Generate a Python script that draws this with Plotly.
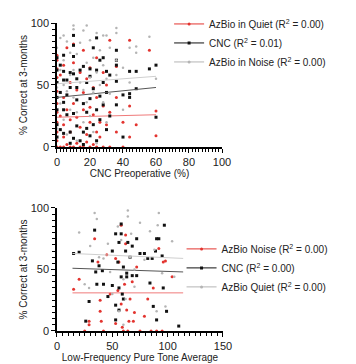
import plotly.graph_objects as go

# ---------------- Top panel data: CNC preoperative (%) vs % correct at 3 months
top_cnc_x = [0,0,0,0,0,0,0,2,2,2,4,4,4,4,4,4,6,6,6,8,8,8,8,10,10,10,10,10,10,12,12,12,12,14,14,16,16,16,16,18,18,18,20,20,20,20,22,22,22,24,24,24,24,26,26,26,28,28,28,30,30,30,32,32,36,36,36,36,36,40,40,44,44,44,48,48,56,60,60]
top_cnc_y = [72,62,52,40,30,18,8,66,44,14,74,61,54,36,30,11,54,42,26,60,48,12,3,90,82,73,59,27,7,55,38,48,17,62,5,65,35,12,2,52,28,15,63,39,9,57,80,47,18,88,62,30,5,41,70,22,72,52,34,61,44,14,58,25,78,70,66,53,34,42,8,61,43,40,61,47,63,66,24]

top_quiet_x = [0,0,0,0,0,0,0,0,0,0,0,2,2,2,4,4,4,4,4,6,6,6,8,8,8,8,10,10,10,10,12,12,12,14,14,14,16,16,16,16,18,18,18,20,20,20,20,22,22,22,24,24,24,24,26,26,28,28,28,30,30,32,32,32,36,36,36,40,40,44,44,44,48,56,60,60]
top_quiet_y = [0,5,12,20,28,35,45,56,63,70,74,0,25,58,0,8,18,40,66,2,30,80,0,12,22,52,0,35,83,68,3,24,46,0,16,60,0,30,44,78,4,10,55,0,20,32,64,2,26,48,0,12,40,72,8,20,0,33,60,18,50,0,28,86,12,40,65,0,20,8,33,86,18,78,9,29]

top_noise_x = [0,0,0,2,2,2,4,4,4,4,6,6,6,8,8,8,10,10,10,10,12,12,12,14,14,16,16,16,18,18,18,20,20,20,22,22,22,24,24,24,26,26,28,28,28,30,30,30,32,32,36,36,36,36,40,40,44,44,48,48,56,60]
top_noise_y = [15,48,80,35,62,88,22,50,70,90,10,45,85,30,58,76,98,95,62,40,5,28,75,52,84,94,46,20,98,68,36,56,25,86,44,72,12,60,92,3,50,78,66,36,90,90,55,20,80,43,96,92,58,70,30,64,80,52,76,81,89,55]

# fitted regression lines (x ends, y ends)
top_fit_x = [0, 60]
top_fit_quiet = [24, 26]
top_fit_cnc = [40, 48]
top_fit_noise = [51, 57]

top_names = ["AzBio in Quiet (R<sup>2</sup> = 0.00)", "CNC (R<sup>2</sup> = 0.01)", "AzBio in Noise (R<sup>2</sup> = 0.00)"]

# ---------------- Bottom panel data: low-frequency PTA vs % correct at 3 months
bot_cnc_x = [15,20,26,29,32,34,35,36,38,41,42,46,50,50,53,53,53,55,56,56,56,58,58,58,59,60,60,62,63,63,64,66,68,68,72,72,75,79,82,84,86,87,89,90,90,92,95,96,97,99,110]
bot_cnc_y = [63,64,8,24,57,82,48,38,53,49,38,28,65,37,79,21,9,56,72,35,17,79,87,44,30,52,26,65,47,44,72,60,69,45,45,75,63,63,59,39,59,20,65,75,9,75,61,35,86,16,4]

bot_noise_x = [15,20,25,29,29,34,37,39,39,40,42,45,48,53,53,55,56,58,58,59,60,61,62,62,63,64,65,66,68,69,70,72,75,79,82,85,87,90,92,95,96,98,104]
bot_noise_y = [34,42,0,8,5,75,56,25,16,8,0,62,30,59,6,33,56,86,22,3,0,38,78,71,17,0,8,26,40,8,15,52,0,12,26,0,35,0,67,0,56,57,44]

bot_quiet_x = [20,25,29,30,34,36,38,42,46,48,50,55,56,58,60,60,62,64,64,66,67,70,70,75,79,84,88,90,91,92,95,98,104,106]
bot_quiet_y = [80,38,35,69,96,91,60,59,71,48,30,85,16,74,42,5,26,98,93,60,79,50,36,88,58,81,66,16,86,96,47,20,73,44]

bot_fit_x = [14, 114]
bot_fit_noise = [31, 31]
bot_fit_cnc = [51, 48]
bot_fit_quiet = [63, 59]

bot_names = ["AzBio Noise (R<sup>2</sup> = 0.00)", "CNC (R<sup>2</sup> = 0.00)", "AzBio Quiet (R<sup>2</sup> = 0.00)"]

RED = "#e3342f"
BLACK = "#111111"
GREY = "#b4b4b4"
RED_LINE = "#f07a7a"
BLACK_LINE = "#555555"
GREY_LINE = "#cfcfcf"

FONT = "Liberation Sans, Arial, sans-serif"

fig = go.Figure()

def add_series(x, y, fx, fy, color, lcolor, symbol, size, name, xa, ya, legend, group):
    fig.add_trace(go.Scatter(x=x, y=y, mode="markers", xaxis=xa, yaxis=ya,
                             marker=dict(color=color, size=size, symbol=symbol, line=dict(width=0)),
                             showlegend=False, legendgroup=group, cliponaxis=False, hoverinfo="x+y"))
    fig.add_trace(go.Scatter(x=fx, y=fy, mode="lines", xaxis=xa, yaxis=ya,
                             line=dict(color=lcolor, width=1),
                             showlegend=False, legendgroup=group, hoverinfo="skip"))
    fig.add_trace(go.Scatter(x=[None], y=[None], mode="lines+markers", xaxis=xa, yaxis=ya,
                             line=dict(color=color, width=1),
                             marker=dict(color=color, size=3, symbol=symbol),
                             name=name, legend=legend, legendgroup=group, showlegend=True))

# top panel
add_series(top_quiet_x, top_quiet_y, top_fit_x, top_fit_quiet, RED, RED_LINE, "circle", 3, top_names[0], "x", "y", "legend", "tq")
add_series(top_cnc_x, top_cnc_y, top_fit_x, top_fit_cnc, BLACK, BLACK_LINE, "square", 3, top_names[1], "x", "y", "legend", "tc")
add_series(top_noise_x, top_noise_y, top_fit_x, top_fit_noise, GREY, GREY_LINE, "circle", 2.5, top_names[2], "x", "y", "legend", "tn")

# bottom panel
add_series(bot_noise_x, bot_noise_y, bot_fit_x, bot_fit_noise, RED, RED_LINE, "circle", 3, bot_names[0], "x2", "y2", "legend2", "bn")
add_series(bot_cnc_x, bot_cnc_y, bot_fit_x, bot_fit_cnc, BLACK, BLACK_LINE, "square", 3, bot_names[1], "x2", "y2", "legend2", "bc")
add_series(bot_quiet_x, bot_quiet_y, bot_fit_x, bot_fit_quiet, GREY, GREY_LINE, "circle", 2.5, bot_names[2], "x2", "y2", "legend2", "bq")

axis_common = dict(showline=True, linecolor="black", linewidth=1.5, ticks="outside",
                   ticklen=4, tickwidth=1, tickcolor="black", showgrid=False, zeroline=False,
                   tickfont=dict(size=11, color="#222", family=FONT), mirror=False,
                   automargin=False)

minor_x_top = dict(dtick=2, ticks="outside", ticklen=3, tickcolor="black", tickwidth=1)
minor_5 = dict(dtick=5, ticks="outside", ticklen=3, tickcolor="black", tickwidth=1)

fig.update_layout(
    width=356, height=364,
    margin=dict(l=0, r=0, t=0, b=0, autoexpand=False),
    paper_bgcolor="white", plot_bgcolor="white",
    font=dict(family=FONT, size=10, color="#222"),
    showlegend=True,
    xaxis=dict(domain=[0.1601, 0.6236], range=[0, 100], dtick=20, anchor="y", minor=minor_x_top,
               title=dict(text="CNC Preoperative (%)", font=dict(size=10), standoff=3),
               **axis_common),
    yaxis=dict(domain=[0.5962, 0.9368], range=[0, 100], dtick=50, anchor="x", minor=minor_5,
               title=dict(text="% Correct at 3-months", font=dict(size=10), standoff=1),
               **axis_common),
    xaxis2=dict(domain=[0.1601, 0.6264], range=[0, 150], dtick=50, anchor="y2", minor=minor_5,
                title=dict(text="Low-Frequency Pure Tone Average", font=dict(size=10), standoff=3),
                **axis_common),
    yaxis2=dict(domain=[0.0907, 0.4286], range=[0, 100], dtick=50, anchor="x2", minor=minor_5,
                title=dict(text="% Correct at 3-months", font=dict(size=10), standoff=1),
                **axis_common),
    legend=dict(x=0.475, y=0.882, xanchor="left", yanchor="middle", bgcolor="rgba(0,0,0,0)",
                font=dict(size=10, family=FONT, color="#222"), borderwidth=0, tracegroupgap=0),
    legend2=dict(x=0.51, y=0.264, xanchor="left", yanchor="middle", bgcolor="rgba(0,0,0,0)",
                 font=dict(size=10, family=FONT, color="#222"), borderwidth=0, tracegroupgap=0),
)

fig.write_html("out.html", config={"displayModeBar": False},
               post_script="document.body.style.margin='0';")
